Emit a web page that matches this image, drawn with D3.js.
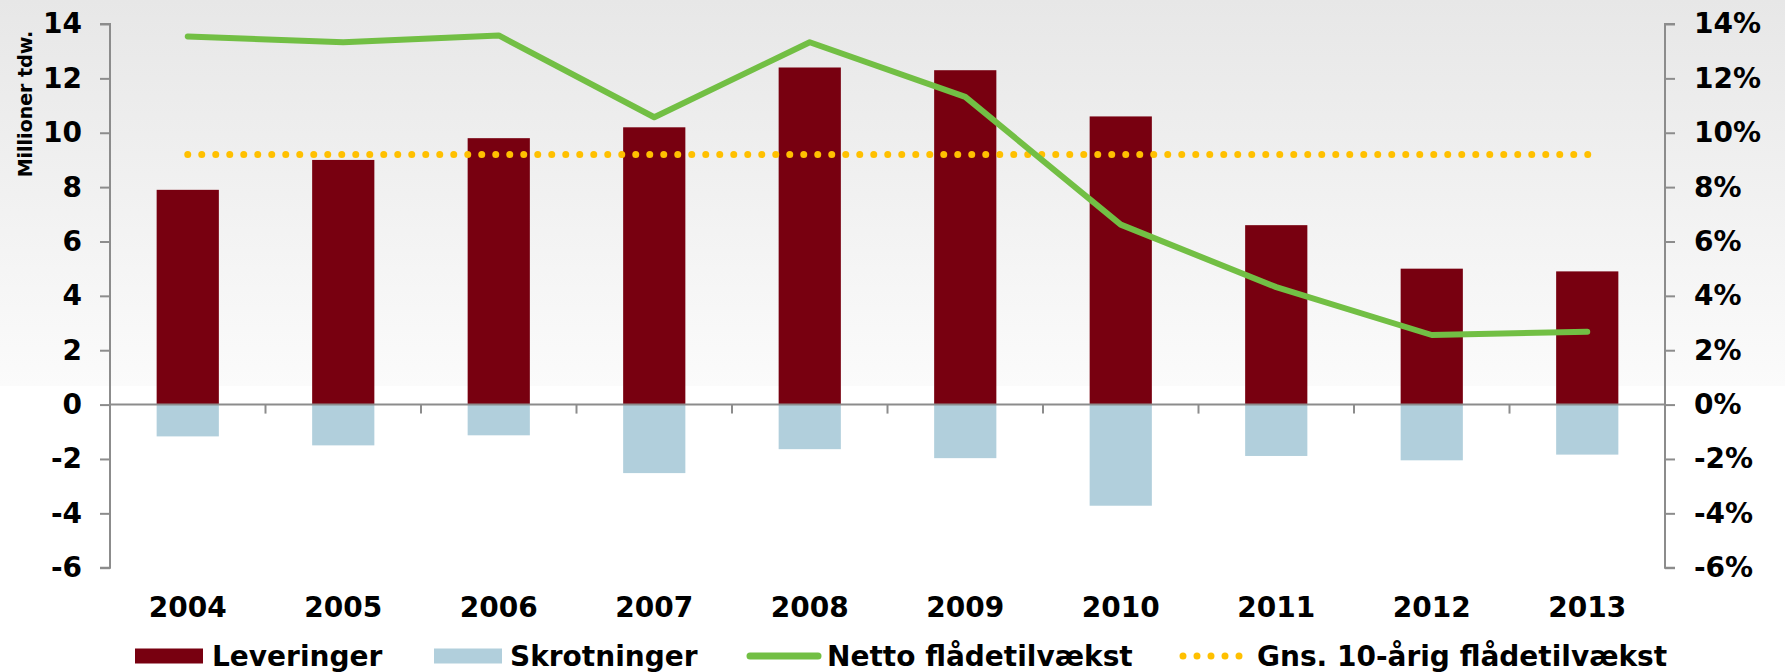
<!DOCTYPE html>
<html>
<head>
<meta charset="utf-8">
<script src="https://cdn.jsdelivr.net/npm/d3@7"></script>
<style>
  html, body { margin: 0; padding: 0; background: #fff; }
  svg { display: block; font-family: "DejaVu Sans", Verdana, sans-serif; font-weight: bold; }
</style>
</head>
<body>
<svg id="chart" width="1785" height="672"></svg>
<script>
const years = ["2004","2005","2006","2007","2008","2009","2010","2011","2012","2013"];
const leveringer = [7.9, 9.0, 9.8, 10.2, 12.4, 12.3, 10.6, 6.6, 5.0, 4.9];
const skrotninger = [-1.17, -1.5, -1.13, -2.52, -1.64, -1.97, -3.72, -1.89, -2.05, -1.84];
const nettoVaekst = [13.54, 13.33, 13.58, 10.57, 13.33, 11.32, 6.62, 4.32, 2.56, 2.68];
const gnsVaekst = 9.2;
const leftTicks = [-6, -4, -2, 0, 2, 4, 6, 8, 10, 12, 14];
const rightTicks = [-6, -4, -2, 0, 2, 4, 6, 8, 10, 12, 14];
const legendLabels = ["Leveringer", "Skrotninger", "Netto flådetilvækst", "Gns. 10-årig flådetilvækst"];

const colors = { lev: "#780010", skr: "#b1cfdc", net: "#72bf44", gns: "#ffc000", axis: "#8c8c8c" };
const FS = "28px";

const svg = d3.select("#chart");
const W = 1785, H = 672;

// background gradient
const defs = svg.append("defs");
const grad = defs.append("linearGradient").attr("id", "bg").attr("x1", 0).attr("y1", 0).attr("x2", 0).attr("y2", 1);
grad.append("stop").attr("offset", "0%").attr("stop-color", "#e7e7e7");
grad.append("stop").attr("offset", "100%").attr("stop-color", "#fbfbfb");
svg.append("rect").attr("x", 0).attr("y", 0).attr("width", W).attr("height", H).attr("fill", "#fff");
svg.append("rect").attr("x", 0).attr("y", 0).attr("width", W).attr("height", 386).attr("fill", "url(#bg)");

const x = d3.scaleBand().domain(years).range([110, 1665]).paddingInner(0.6).paddingOuter(0.3);
const y = d3.scaleLinear().domain([-6, 14]).range([567.7, 24]);
const yR = d3.scaleLinear().domain([-6, 14]).range([567.7, 24]);

// bars
svg.append("g").selectAll("rect").data(years).join("rect")
  .attr("x", d => x(d)).attr("width", x.bandwidth())
  .attr("y", (d, i) => y(leveringer[i])).attr("height", (d, i) => y(0) - y(leveringer[i]))
  .attr("fill", colors.lev);
svg.append("g").selectAll("rect").data(years).join("rect")
  .attr("x", d => x(d)).attr("width", x.bandwidth())
  .attr("y", y(0)).attr("height", (d, i) => y(skrotninger[i]) - y(0))
  .attr("fill", colors.skr);

// zero line with category ticks
svg.append("line").attr("x1", 110).attr("x2", 1665).attr("y1", y(0)).attr("y2", y(0))
  .attr("stroke", colors.axis).attr("stroke-width", 2);
const step = x.step();
svg.append("g").selectAll("line").data(d3.range(1, years.length)).join("line")
  .attr("x1", i => 110 + i * step).attr("x2", i => 110 + i * step)
  .attr("y1", y(0)).attr("y2", y(0) + 9)
  .attr("stroke", colors.axis).attr("stroke-width", 2);

// left axis
const gL = svg.append("g").attr("transform", "translate(110,0)")
  .call(d3.axisLeft(y).tickValues(leftTicks).tickSize(10).tickPadding(18).tickFormat(d => String(d)));
gL.select(".domain").attr("d", `M-10,${y(14)}H0V${y(-6)}H-10`);
// right axis
const gR = svg.append("g").attr("transform", "translate(1665,0)")
  .call(d3.axisRight(yR).tickValues(rightTicks).tickSize(10).tickPadding(19).tickFormat(d => String(d) + "%"));
gR.select(".domain").attr("d", `M10,${yR(14)}H0V${yR(-6)}H10`);
[gL, gR].forEach(g => {
  g.selectAll(".domain").attr("stroke", colors.axis).attr("stroke-width", 2).attr("fill", "none");
  g.selectAll(".tick line").attr("stroke", colors.axis).attr("stroke-width", 2);
  g.selectAll(".tick text").attr("fill", "#000").style("font-size", FS).style("font-weight", "bold")
    .style("font-family", "'DejaVu Sans', Verdana, sans-serif");
});

// x labels
svg.append("g").selectAll("text").data(years).join("text")
  .attr("x", d => x(d) + x.bandwidth() / 2).attr("y", 607).attr("dy", "0.35em")
  .attr("text-anchor", "middle").style("font-size", FS).text(d => d);

// y title
svg.append("text").attr("transform", "translate(25,104) rotate(-90)")
  .attr("text-anchor", "middle").attr("dy", "0.35em").style("font-size", "19px").text("Millioner tdw.");

// average dotted line
const cx = d => x(d) + x.bandwidth() / 2;
svg.append("line").attr("x1", cx(years[0])).attr("x2", cx(years[years.length - 1]) + 1)
  .attr("y1", yR(gnsVaekst)).attr("y2", yR(gnsVaekst))
  .attr("stroke", colors.gns).attr("stroke-width", 7).attr("stroke-linecap", "round").attr("stroke-dasharray", "0 14");

// netto line
svg.append("path").datum(nettoVaekst)
  .attr("d", d3.line().x((d, i) => cx(years[i])).y(d => yR(d)))
  .attr("fill", "none").attr("stroke", colors.net).attr("stroke-width", 6)
  .attr("stroke-linecap", "round").attr("stroke-linejoin", "round");

// legend
const legY = 656;
const leg = [
  { sx: 135, tx: 212, type: "rect", color: colors.lev },
  { sx: 434, tx: 510, type: "rect", color: colors.skr },
  { sx: 747, tx: 827, type: "line", color: colors.net },
  { sx: 1183, tx: 1257, type: "dots", color: colors.gns }
];
leg.forEach((l, i) => {
  if (l.type === "rect") {
    svg.append("rect").attr("x", l.sx).attr("y", legY - 7.5).attr("width", 68).attr("height", 15).attr("fill", l.color);
  } else if (l.type === "line") {
    svg.append("line").attr("x1", l.sx + 3).attr("x2", l.sx + 71).attr("y1", legY).attr("y2", legY)
      .attr("stroke", l.color).attr("stroke-width", 7).attr("stroke-linecap", "round");
  } else {
    svg.append("line").attr("x1", l.sx).attr("x2", l.sx + 57).attr("y1", legY).attr("y2", legY)
      .attr("stroke", l.color).attr("stroke-width", 7).attr("stroke-linecap", "round").attr("stroke-dasharray", "0 14");
  }
  svg.append("text").attr("x", l.tx).attr("y", legY).attr("dy", "0.35em").style("font-size", FS).text(legendLabels[i]);
});
</script>
</body>
</html>
